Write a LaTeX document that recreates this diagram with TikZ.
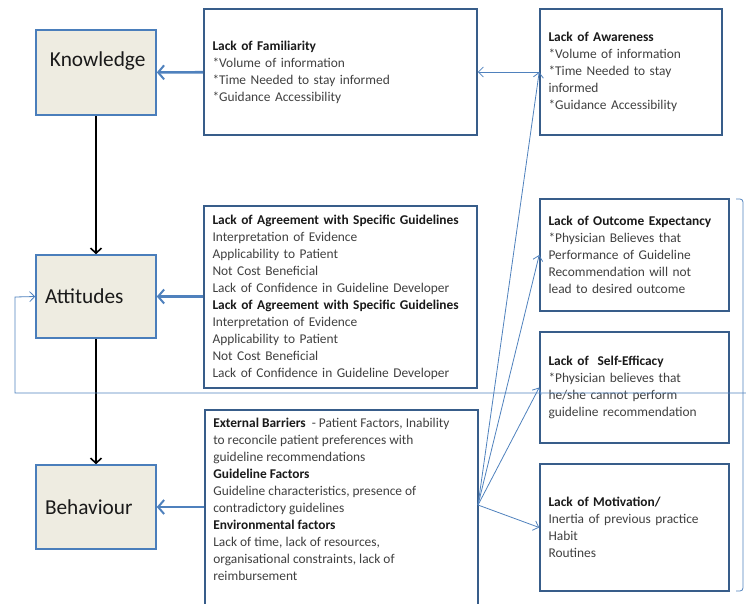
\documentclass[tikz,border=0pt]{standalone}
\usepackage{fontspec}
\setmainfont{Carlito}
\usetikzlibrary{arrows.meta}
\definecolor{boxfill}{HTML}{EEECE1}
\definecolor{leftline}{HTML}{4A7EBB}
\definecolor{boxline}{HTML}{385D8A}
\definecolor{arrowblue}{HTML}{4F81BD}
\definecolor{txtgrey}{HTML}{404040}
\definecolor{headtxt}{HTML}{1A1A1A}
\newcommand{\boxhead}[1]{{\bfseries\color{headtxt}#1}}

\begin{document}
\begin{tikzpicture}[x=1pt,y=-1pt]
\tikzstyle{every node}+=[inner sep=0pt]
\tikzstyle{leftbox}=[draw=leftline, line width=1.6pt, fill=boxfill, text width=102pt, align=left, inner xsep=9pt, text=headtxt, font=\fontsize{21.3}{25}\selectfont]
\tikzstyle{txtbox}=[draw=boxline, line width=1.6pt, fill=white, align=left, inner xsep=8.5pt, text=txtgrey, font=\fontsize{13.4}{17}\selectfont]
\tikzstyle{bigarrow}=[arrowblue, line width=2.6pt, -{Straight Barb[length=6pt,width=14pt,line width=2pt]}]
\tikzstyle{thinarrow}=[arrowblue, line width=0.8pt, -{Straight Barb[length=5pt,width=10pt]}]
\tikzstyle{flowarrow}=[black, line width=1.6pt, -{Straight Barb[length=5pt,width=11pt]}]
\clip (0,0) rectangle (746,603);
\node [leftbox, minimum height=85pt, text depth=26pt] (know) at (96,72.5) {\hspace*{5pt}Knowledge};
\node [leftbox, minimum height=83pt] (att) at (96,296.5) {Attitudes};
\node [leftbox, minimum height=84pt] (beh) at (96,507) {Behaviour};
\node [txtbox, text width=256pt, minimum height=126pt] (fam) at (340.5,72) {\boxhead{Lack of Familiarity}\\{}*Volume of information\\{}*Time Needed to stay informed\\{}*Guidance Accessibility};
\node [txtbox, text width=256pt, minimum height=182pt] (agree) at (340.5,297) {\boxhead{Lack of Agreement with Specific Guidelines}\\Interpretation of Evidence\\Applicability to Patient\\Not Cost Beneficial\\Lack of Confidence in Guideline Developer\\\boxhead{Lack of Agreement with Specific Guidelines}\\Interpretation of Evidence\\Applicability to Patient\\Not Cost Beneficial\\Lack of Confidence in Guideline Developer};
\node [txtbox, anchor=north west, inner ysep=8pt] (ext) at (204,409) {\parbox[t][200pt][t]{256pt}{\raggedright\boxhead{External Barriers}~ - Patient Factors, Inability\\to reconcile patient preferences with\\guideline recommendations\\\boxhead{Guideline Factors}\\Guideline characteristics, presence of\\contradictory guidelines\\\boxhead{Environmental factors}\\Lack of time, lack of resources,\\organisational constraints, lack of\\reimbursement}};
\node [txtbox, text width=165pt, minimum height=126pt] (aware) at (631,72) {\boxhead{Lack of Awareness}\\{}*Volume of information\\{}*Time Needed to stay\\informed\\{}*Guidance Accessibility};
\node [txtbox, text width=172pt, minimum height=112pt] (outc) at (634.5,255) {\boxhead{Lack of Outcome Expectancy}\\{}*Physician Believes that\\Performance of Guideline\\Recommendation will not\\lead to desired outcome};
\node [txtbox, text width=172pt, minimum height=111pt] (self) at (634.5,387.5) {\boxhead{Lack of~ Self-Efficacy}\\{}*Physician believes that\\he/she cannot perform\\guideline recommendation};
\node [txtbox, text width=172pt, minimum height=127pt] (motiv) at (634.5,527.5) {\boxhead{Lack of Motivation/}\\Inertia of previous practice\\Habit\\Routines};
\coordinate (fan) at (478,505);
\coordinate (bt) at (736,199);
\coordinate (bb) at (736,591);
\coordinate (fb) at (746,393);
\draw [flowarrow] (know) -- (att);
\draw [flowarrow] (att) -- (beh);
\draw [bigarrow] (fam) -- (know);
\draw [bigarrow] (agree.west |- att.east) -- (att);
\draw [bigarrow] (ext.west |- beh.east) -- (beh);
\draw [thinarrow] (aware) -- (fam);
\draw [thinarrow] (fan) -- (aware.west);
\draw [thinarrow] (fan) -- (outc.west);
\draw [thinarrow] (fan) -- (self.west);
\draw [thinarrow] (fan) -- (motiv.west);
\draw [arrowblue, line width=0.8pt, rounded corners=3pt] (bt) -- (743,199) -- (743,591) -- (bb);
\draw [thinarrow] (fb) -| (15,297) -- (att.west);
\end{tikzpicture}
\end{document}
